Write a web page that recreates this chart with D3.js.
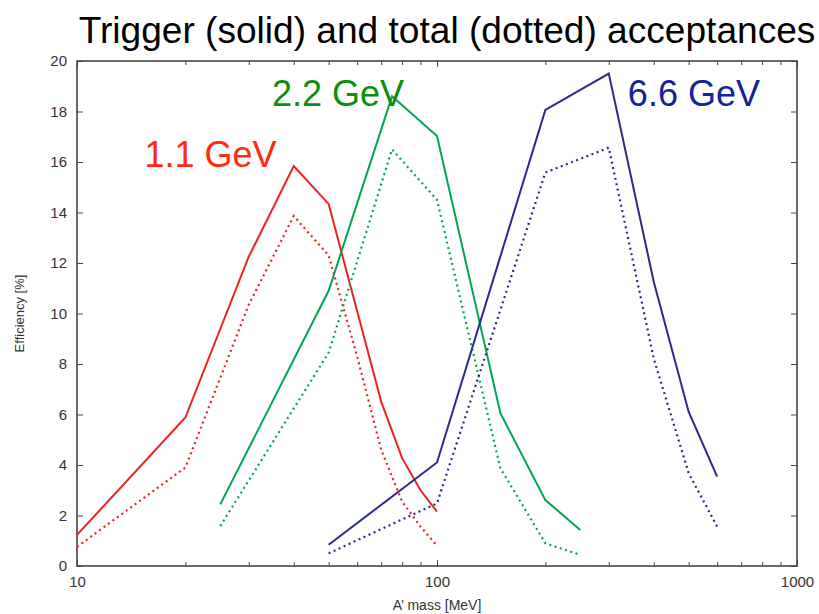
<!DOCTYPE html>
<html>
<head>
<meta charset="utf-8">
<script src="https://cdn.jsdelivr.net/npm/d3@7"></script>
<style>
  html, body { margin: 0; padding: 0; background: #fff; }
  svg { display: block; font-family: "Liberation Sans", Arial, Helvetica, sans-serif; }
</style>
</head>
<body>
<svg id="chart" width="819" height="614"></svg>
<script>
// A' mass points (MeV) and acceptances (%) for each beam energy
const mass11 = [10, 20, 30, 40, 50, 60, 70, 80, 90, 100];
const trig11 = [1.23, 5.88, 12.25, 15.84, 14.34, 10.1, 6.5, 4.27, 3.0, 2.15];
const tot11  = [0.76, 3.9, 10.35, 13.86, 12.3, 8.3, 4.6, 2.55, 1.56, 0.8];

const mass22 = [25, 50, 75, 100, 150, 200, 250];
const trig22 = [2.44, 10.9, 18.6, 17.03, 6.05, 2.61, 1.43];
const tot22  = [1.58, 8.45, 16.5, 14.5, 3.87, 0.9, 0.44];

const mass66 = [50, 100, 200, 300, 400, 500, 600];
const trig66 = [0.84, 4.1, 18.06, 19.5, 11.26, 6.11, 3.54];
const tot66  = [0.5, 2.48, 15.58, 16.57, 8.22, 3.68, 1.56];

const energyLabels = ["1.1 GeV", "2.2 GeV", "6.6 GeV"];
const yTicks = [0, 2, 4, 6, 8, 10, 12, 14, 16, 18, 20];
const xMajor = [10, 100, 1000];

const series = [
  { label: energyLabels[0], mass: mass11, trig: trig11, tot: tot11, line: "#ee2222", text: "#ff2a10", lx: 15.4, ly: 15.8 },
  { label: energyLabels[1], mass: mass22, trig: trig22, tot: tot22, line: "#00a650", text: "#0a8f0a", lx: 34.8, ly: 18.2 },
  { label: energyLabels[2], mass: mass66, trig: trig66, tot: tot66, line: "#2a2a8c", text: "#13239a", lx: 339, ly: 18.2 }
];

const svg = d3.select("#chart");
const L = 77, R = 797, T = 61, B = 566;
const axisColor = "#444";

const x = d3.scaleLog().domain([10, 1000]).range([L, R]);
const y = d3.scaleLinear().domain([0, 20]).range([B, T]);

// Title, sized so it spans the header width
const title = svg.append("text")
  .attr("x", 447).attr("y", 43)
  .attr("text-anchor", "middle")
  .attr("font-size", 38)
  .attr("fill", "#000")
  .text("Trigger (solid) and total (dotted) acceptances");
const tw = title.node().getComputedTextLength();
title.attr("font-size", 38 * 737 / tw);

// Minor + major log ticks
const minorTicks = [];
[10, 100].forEach(d => { for (let k = 2; k <= 9; k++) minorTicks.push(d * k); });

// Bottom axis
svg.append("g").attr("transform", `translate(0,${B})`)
  .call(d3.axisBottom(x).tickValues(xMajor).tickFormat(d3.format("d")).tickSize(-6).tickPadding(10));
svg.append("g").attr("transform", `translate(0,${B})`)
  .call(d3.axisBottom(x).tickValues(minorTicks).tickFormat("").tickSize(-4));
// Top axis
svg.append("g").attr("transform", `translate(0,${T})`)
  .call(d3.axisTop(x).tickValues(xMajor).tickFormat("").tickSize(-6));
svg.append("g").attr("transform", `translate(0,${T})`)
  .call(d3.axisTop(x).tickValues(minorTicks).tickFormat("").tickSize(-4));
// Left and right axes
svg.append("g").attr("transform", `translate(${L},0)`)
  .call(d3.axisLeft(y).tickValues(yTicks).tickSize(-6).tickPadding(10));
svg.append("g").attr("transform", `translate(${R},0)`)
  .call(d3.axisRight(y).tickValues(yTicks).tickFormat("").tickSize(-6));

svg.selectAll(".domain").remove();
svg.selectAll(".tick line").attr("stroke", axisColor).attr("stroke-width", 1);
svg.selectAll(".tick text")
  .attr("fill", "#333")
  .attr("font-size", 15)
  .attr("font-family", "Liberation Sans, Arial, sans-serif");

// Frame
svg.append("rect")
  .attr("x", L).attr("y", T).attr("width", R - L).attr("height", B - T)
  .attr("fill", "none").attr("stroke", axisColor).attr("stroke-width", 1.6);

// Axis titles
svg.append("text")
  .attr("x", 437).attr("y", 610)
  .attr("text-anchor", "middle").attr("font-size", 14).attr("fill", "#333")
  .text("A’ mass [MeV]");
svg.append("text")
  .attr("transform", `translate(24,${(T + B) / 2}) rotate(-90)`)
  .attr("text-anchor", "middle").attr("font-size", 13).attr("fill", "#333")
  .text("Efficiency [%]");

// Curves: solid = trigger acceptance, dotted = total acceptance
const line = d3.line().x(d => x(d[0])).y(d => y(d[1]));
const plot = svg.append("g");
series.forEach(s => {
  const trigPts = s.mass.map((m, i) => [m, s.trig[i]]);
  const totPts = s.mass.map((m, i) => [m, s.tot[i]]);
  plot.append("path").datum(trigPts)
    .attr("d", line).attr("fill", "none")
    .attr("stroke", s.line).attr("stroke-width", 2).attr("stroke-linejoin", "miter");
  plot.append("path").datum(totPts)
    .attr("d", line).attr("fill", "none")
    .attr("stroke", s.line).attr("stroke-width", 2.2)
    .attr("stroke-dasharray", "2,3.5");
  svg.append("text")
    .attr("x", x(s.lx)).attr("y", y(s.ly))
    .attr("font-size", 36).attr("fill", s.text)
    .text(s.label);
});
</script>
</body>
</html>
